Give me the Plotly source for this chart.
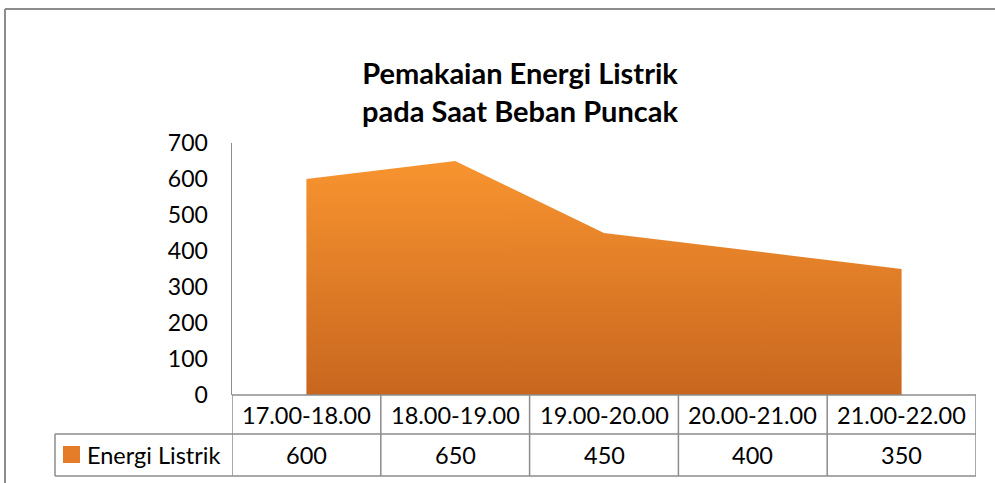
import plotly.graph_objects as go

categories = ["17.00-18.00", "18.00-19.00", "19.00-20.00", "20.00-21.00", "21.00-22.00"]
values = [600, 650, 450, 400, 350]
series_name = "Energi Listrik"
title_lines = ["Pemakaian Energi Listrik", "pada Saat Beban Puncak"]
y_ticks = [0, 100, 200, 300, 400, 500, 600, 700]

W, H = 995, 483
L, R, T, B = 232, 19, 143, 88
pw, ph = W - L - R, H - T - B

def px_x(p):
    return (p - L) / pw

def px_y(p):
    return (H - B - p) / ph

FONT = "Lato, 'Open Sans', sans-serif"
GRID = "#8c8c8c"

fig = go.Figure()
fig.add_trace(go.Scatter(
    x=list(range(len(categories))), y=values, mode="lines",
    line=dict(width=0), fill="tozeroy",
    fillgradient=dict(type="vertical", colorscale=[[0, "#c8661f"], [1, "#f8942f"]]),
    name=series_name, showlegend=False, hoverinfo="skip",
))

shapes = []
annotations = []
row1_bot = px_y(434)
row2_bot = px_y(476)
leg_left = px_x(55)

for i in range(len(categories) + 1):
    shapes.append(dict(type="line", xref="x", yref="paper", x0=i - 0.5, x1=i - 0.5,
                       y0=0, y1=row2_bot, line=dict(color=GRID, width=1.5)))
shapes.append(dict(type="line", xref="paper", yref="paper", x0=0, x1=1, y0=0, y1=0,
                   line=dict(color=GRID, width=1.5)))
for yy in (row1_bot, row2_bot):
    shapes.append(dict(type="line", xref="paper", yref="paper", x0=leg_left, x1=1, y0=yy, y1=yy,
                       line=dict(color=GRID, width=1.5)))
shapes.append(dict(type="line", xref="paper", yref="paper", x0=leg_left, x1=leg_left,
                   y0=row1_bot, y1=row2_bot, line=dict(color=GRID, width=1.5)))
shapes.append(dict(type="rect", xref="paper", yref="paper", x0=px_x(63), x1=px_x(80),
                   y0=px_y(463), y1=px_y(446), line=dict(width=0), fillcolor="#e57d28"))
shapes.append(dict(type="line", xref="paper", yref="paper", x0=px_x(5), x1=px_x(5),
                   y0=px_y(9), y1=-0.6, line=dict(color="#8c8c8c", width=2)))
shapes.append(dict(type="line", xref="paper", yref="paper", x0=px_x(5), x1=1.2,
                   y0=px_y(9), y1=px_y(9), line=dict(color="#8c8c8c", width=2)))

TF = dict(family=FONT, size=23.5, color="black")
for i, (c, v) in enumerate(zip(categories, values)):
    annotations.append(dict(x=i, y=(0 + row1_bot) / 2, xref="x", yref="paper", text=c,
                            showarrow=False, font=TF, xanchor="center", yanchor="middle"))
    annotations.append(dict(x=i, y=(row1_bot + row2_bot) / 2, xref="x", yref="paper", text=str(v),
                            showarrow=False, font=TF, xanchor="center", yanchor="middle"))
annotations.append(dict(x=px_x(85), y=(row1_bot + row2_bot) / 2, xref="paper", yref="paper",
                        text=series_name, showarrow=False, font=TF,
                        xanchor="left", yanchor="middle"))
annotations.append(dict(x=px_x(520), y=px_y(91), xref="paper", yref="paper",
                        text="<b>" + title_lines[0] + "</b><br><b>" + title_lines[1] + "</b>",
                        showarrow=False, font=dict(family=FONT, size=29, color="black"),
                        xanchor="center", yanchor="middle", align="center"))

fig.update_layout(
    width=W, height=H, margin=dict(l=L, r=R, t=T, b=B),
    paper_bgcolor="white", plot_bgcolor="white",
    shapes=shapes, annotations=annotations, showlegend=False,
    xaxis=dict(range=[-0.5, len(categories) - 0.5], showticklabels=False, showgrid=False,
               zeroline=False, showline=False, fixedrange=True),
    yaxis=dict(range=[0, 700], tickvals=y_ticks, showgrid=False, zeroline=False,
               showline=True, linecolor=GRID, linewidth=1.5,
               ticks="outside", ticklen=18, tickcolor="rgba(0,0,0,0)",
               tickfont=dict(family=FONT, size=23, color="black"), fixedrange=True),
)

fig.write_html("out.html", config={"displayModeBar": False, "staticPlot": True},
               post_script="document.body.style.margin='0';")
